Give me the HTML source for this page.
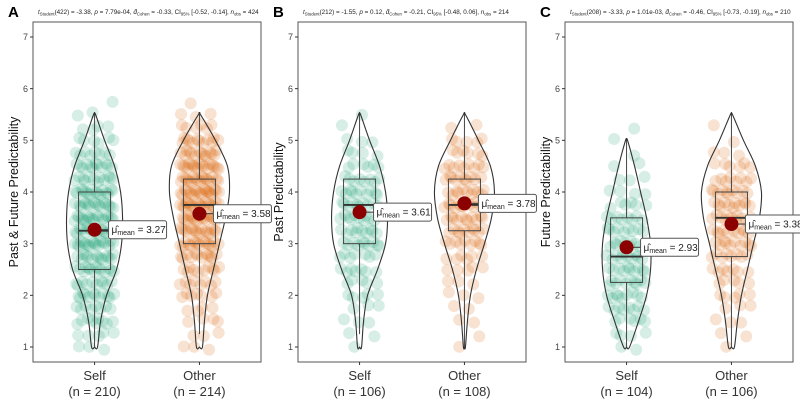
<!DOCTYPE html>
<html><head><meta charset="utf-8"><style>
html,body{margin:0;padding:0;background:#fff;width:800px;height:400px;overflow:hidden}
svg{font-family:"Liberation Sans",sans-serif}
</style></head><body>
<svg id="chart" width="800" height="400" viewBox="0 0 800 400"></svg>
<script>
// ---- data ----
const panelLetters = ["A","B","C"];
const yTitles = ["Past & Future Predictability","Past Predictability","Future Predictability"];
const subtitles = [
 ["(422) = -3.38, ","p"," = 7.79e-04, ","-0.33, CI","[-0.52, -0.14], ","424"],
 ["(212) = -1.55, ","p"," = 0.12, ","-0.21, CI","[-0.48, 0.06], ","214"],
 ["(208) = -3.33, ","p"," = 1.01e-03, ","-0.46, CI","[-0.73, -0.19], ","210"]];
const categories = ["Self","Other"];
const nLabels = [["210","214"],["106","108"],["104","106"]];
const yTicks = [1,2,3,4,5,6,7];
const means = [[3.27,3.58],[3.61,3.78],[2.93,3.38]];
const q1s = [[2.5,3.0],[3.0,3.25],[2.25,2.75]];
const medians = [[3.25,3.75],[3.75,3.75],[2.75,3.5]];
const q3s = [[4.0,4.25],[4.25,4.25],[3.5,4.0]];
const wLo = [[1.0,1.25],[1.25,1.0],[1.0,1.0]];
const wHi = [[5.5,5.5],[5.5,5.5],[5.0,5.5]];
// violin half-width at levels 1,1.5,...,5.5 (px)
const violinLevels = [1,1.5,2,2.5,3,3.5,4,4.5,5,5.5];
const violins = [
 [[3,6,12,22,27,28,26,20,10,1],[3,5,8,14,20,26,30,28,16,1]],
 [[2,4,8,18,26,28,26,20,10,1],[1,3,6,12,20,27,30,26,14,1]],
 [[3,12,20,24,24,20,14,8,1,0],[3,6,10,16,22,28,30,24,12,1]]];
// counts of observations at levels 1..5.75 step .25
const countLevels = [1,1.25,1.5,1.75,2,2.25,2.5,2.75,3,3.25,3.5,3.75,4,4.25,4.5,4.75,5,5.25,5.5,5.75];
const counts = [
 [[3,5,9,8,12,10,14,14,18,16,18,16,16,12,12,8,6,4,2,1],[3,3,4,4,7,8,10,12,16,16,18,20,20,18,18,14,12,6,3,1]],
 [[1,2,3,3,5,5,7,7,10,10,10,10,10,8,6,4,3,1,1,0],[1,1,2,2,3,3,5,6,9,10,11,12,11,10,9,6,5,2,0,0]],
 [[2,4,6,8,9,10,10,10,10,9,8,6,4,3,2,1,1,1,0,0],[1,2,3,3,5,5,7,8,10,10,11,11,10,8,6,3,1,1,0,0]]];
const colors = ["#1b9e77","#d95f02"];

const svg = document.getElementById('chart');
const NS = "http://www.w3.org/2000/svg";
function mk(tag, attrs, parent){const e=document.createElementNS(NS,tag);for(const k in attrs)e.setAttribute(k,attrs[k]);(parent||svg).appendChild(e);return e;}
const frameX = [33,298,565], frameW = 228, frameTop = 22, frameBot = 362;
function yScale(v){return 347 - (v-1)*(310/6);}
function smooth(pts){
  let d='M'+pts[0][0]+','+pts[0][1];
  for(let i=0;i<pts.length-1;i++){
    const p0=pts[Math.max(0,i-1)],p1=pts[i],p2=pts[i+1],p3=pts[Math.min(pts.length-1,i+2)];
    const c1=[p1[0]+(p2[0]-p0[0])/6,p1[1]+(p2[1]-p0[1])/6];
    const c2=[p2[0]-(p3[0]-p1[0])/6,p2[1]-(p3[1]-p1[1])/6];
    d+=` C${c1[0]},${c1[1]} ${c2[0]},${c2[1]} ${p2[0]},${p2[1]}`;
  }
  return d;
}

for(let p=0;p<3;p++){
  const g = mk('g',{});
  
  
  const x0 = frameX[p];
  const xc = [x0+frameW*0.27, x0+frameW*0.73];
  const L = mk('text',{x:x0-25,y:17,'font-size':15,'font-weight':'bold',fill:'#000'},g);
  L.textContent = panelLetters[p];
  
  
  const s = subtitles[p];
  const st = mk('text',{x:x0+5,y:14,'font-size':6.3,fill:'#222'},g);
  
  
  st.innerHTML = '<tspan font-style="italic">t</tspan><tspan font-size="4.3" dy="1.5">Student</tspan><tspan dy="-1.5">'+s[0]+'</tspan><tspan font-style="italic">'+s[1]+'</tspan>'+s[2]+'<tspan font-style="italic">d&#770;</tspan><tspan font-size="4.3" dy="1.5">Cohen</tspan><tspan dy="-1.5"> = '+s[3]+'</tspan><tspan font-size="4.3" dy="1.5">95%</tspan><tspan dy="-1.5"> '+s[4]+'</tspan><tspan font-style="italic">n</tspan><tspan font-size="4.3" dy="1.5">obs</tspan><tspan dy="-1.5"> = '+s[5]+'</tspan>';
  const fr = mk('rect',{x:x0,y:frameTop,width:frameW,height:frameBot-frameTop,fill:'none',stroke:'#555','stroke-width':1},g);
  
  
  yTicks.forEach(t=>{
    const yy=yScale(t);
    mk('line',{x1:x0-3,x2:x0,y1:yy,y2:yy,stroke:'#333'},g);
    const tl=mk('text',{x:x0-5,y:yy+3.2,'font-size':9,fill:'#444','text-anchor':'end'},g);
    tl.textContent=t;
    
    
  });
  const yt=mk('text',{x:0,y:0,'font-size':12.5,fill:'#111','text-anchor':'middle',transform:`translate(${x0-15},${(frameTop+frameBot)/2}) rotate(-90)`},g);
  yt.textContent=yTitles[p];
  
  
  for(let c=0;c<2;c++){
    const cx=xc[c];
    mk('line',{x1:cx,x2:cx,y1:frameBot,y2:frameBot+3,stroke:'#333'},g);
    const xl=mk('text',{x:cx,y:380,'font-size':13,fill:'#333','text-anchor':'middle'},g);
    xl.textContent=categories[c];
    
    
    const nl=mk('text',{x:cx,y:396,'font-size':13,fill:'#333','text-anchor':'middle'},g);
    nl.textContent='(n = '+nLabels[p][c]+')';
    
    
    let idx=0;
    countLevels.forEach((lv,li)=>{
      const n=counts[p][c][li];
      for(let k=0;k<n;k++){
        idx++;
        const jx=(((idx*37+li*13)%100)/100-0.5)*40;
        const jy=(((idx*53+li*7)%100)/100-0.5)*0.12;
        const pt=mk('circle',{cx:cx+jx,cy:yScale(lv+jy),r:6,fill:colors[c],'fill-opacity':0.18},g);
        
        
      }
    });
    const hw=violins[p][c];
    const top=wHi[p][c];
    let right=[[cx,yScale(1)]],left=[];
    violinLevels.forEach((lv,i)=>{ if(lv<=top){right.push([cx+hw[i],yScale(lv)]);left.push([cx-hw[i],yScale(lv)]);} });
    right.push([cx,yScale(top)]);
    left.reverse();
    const pts=right.concat(left).concat([[cx,yScale(1)]]);
    const vi=mk('path',{d:smooth(pts)+' Z',fill:'none',stroke:'#333','stroke-width':1.1,'stroke-linejoin':'round'},g);
    
    
    mk('line',{x1:cx,x2:cx,y1:yScale(wLo[p][c]),y2:yScale(q1s[p][c]),stroke:'#444'},g);
    mk('line',{x1:cx,x2:cx,y1:yScale(q3s[p][c]),y2:yScale(wHi[p][c]),stroke:'#444'},g);
    const bx=mk('rect',{x:cx-16,y:yScale(q3s[p][c]),width:32,height:yScale(q1s[p][c])-yScale(q3s[p][c]),fill:'none',stroke:'#444','stroke-width':1},g);
    
    
    mk('line',{x1:cx-16,x2:cx+16,y1:yScale(medians[p][c]),y2:yScale(medians[p][c]),stroke:'#333','stroke-width':1.8},g);
    const my=yScale(means[p][c]);
    mk('line',{x1:cx,x2:cx+14,y1:my,y2:my,stroke:'#333'},g);
    const mp=mk('circle',{cx:cx,cy:my,r:7,fill:'#8b0000'},g);
    
    
    const lb=mk('rect',{x:cx+14,y:my-9,width:58,height:18,rx:2,fill:'#fff',stroke:'#555','stroke-width':1},g);
    
    
    const lt=mk('text',{x:cx+17,y:my+3.5,'font-size':10,fill:'#222'},g);
    lt.innerHTML='μ&#770;<tspan font-size="7" dy="2">mean</tspan><tspan dy="-2"> = '+means[p][c].toFixed(2)+'</tspan>';
  }
}
</script>
</body></html>
